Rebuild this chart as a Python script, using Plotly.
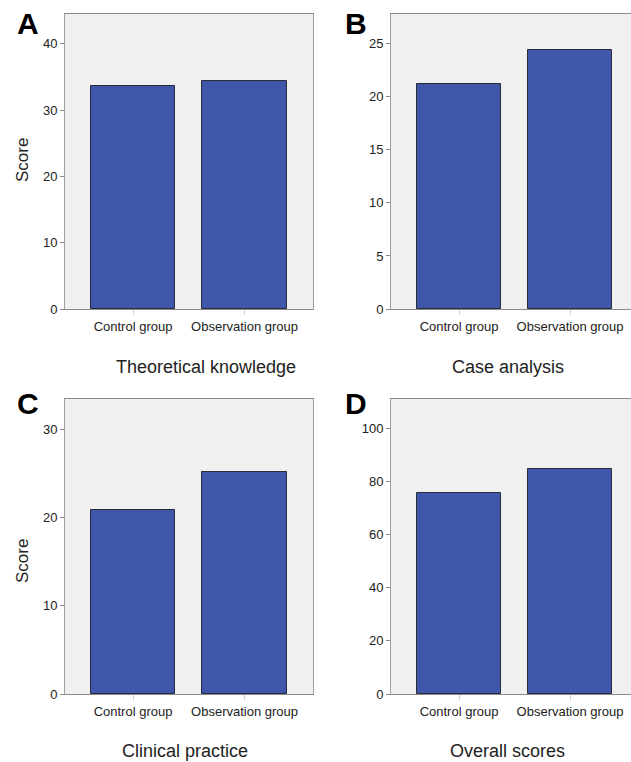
import plotly.graph_objects as go

categories = ["Control group", "Observation group"]
theoretical = [33.6, 34.4]
case_analysis = [21.2, 24.4]
clinical = [20.8, 25.1]
overall = [75.6, 84.6]

panels = [
    dict(vals=theoretical, letter="A", title="Theoretical knowledge", yrange=[0, 44.5], dtick=10),
    dict(vals=case_analysis, letter="B", title="Case analysis", yrange=[0, 27.8], dtick=5),
    dict(vals=clinical, letter="C", title="Clinical practice", yrange=[0, 33.4], dtick=10),
    dict(vals=overall, letter="D", title="Overall scores", yrange=[0, 111], dtick=20),
]

W, H = 631, 762
boxes = [(65, 14, 313, 309), (391, 14, 631, 309), (65, 399, 313, 694), (391, 399, 631, 694)]
xranges = [[-0.61, 1.614], [-0.613, 1.549], [-0.61, 1.614], [-0.613, 1.549]]
title_pos = [(206, 367), (508, 367), (185, 751), (507, 751)]
letter_pos = [(28, 24), (356, 24), (28, 403), (356, 403)]
score_pos = [(22, 160), (22, 561)]

FONT = "Liberation Sans, Arial, sans-serif"
fig = go.Figure()
layout = dict(width=W, height=H, margin=dict(l=0, r=0, t=0, b=0, autoexpand=False),
              paper_bgcolor="white", plot_bgcolor="white", showlegend=False,
              font=dict(family=FONT, color="#222"), annotations=[], bargap=0)

shapes = []
for i, p in enumerate(panels):
    n = "" if i == 0 else str(i + 1)
    l, t, r, b = boxes[i]
    fig.add_trace(go.Bar(x=categories, y=p["vals"], xaxis="x" + n, yaxis="y" + n,
                         width=0.755, marker=dict(color="#3f57ab", line=dict(color="#2a2a3a", width=1))))
    right_cut = (r == W)
    layout["xaxis" + n] = dict(domain=[l / W, r / W], anchor="y" + n, range=xranges[i],
                               showline=True, linecolor="#8a8a8a", linewidth=1,
                               mirror=True, ticks="outside", ticklen=5, tickcolor="#cfcfcf",
                               tickfont=dict(size=13, color="#222", family=FONT),
                               showgrid=False, zeroline=False, fixedrange=True, automargin=False)
    layout["yaxis" + n] = dict(domain=[1 - b / H, 1 - t / H], anchor="x" + n, range=p["yrange"],
                               dtick=p["dtick"], tick0=0,
                               showline=True, linecolor="#a0a0a0", linewidth=1,
                               mirror=(not right_cut), ticks="outside", ticklen=4, tickcolor="#8a8a8a",
                               tickfont=dict(size=13, color="#222", family=FONT),
                               showgrid=False, zeroline=False, fixedrange=True, automargin=False)
    tx, ty = title_pos[i]
    layout["annotations"].append(dict(text=p["title"], x=tx / W, y=1 - ty / H, xref="paper", yref="paper",
                                      showarrow=False, font=dict(size=18, family=FONT, color="#222"),
                                      xanchor="center", yanchor="middle"))
    lx, ly = letter_pos[i]
    layout["annotations"].append(dict(text="<b>" + p["letter"] + "</b>", x=lx / W, y=1 - ly / H,
                                      xref="paper", yref="paper", showarrow=False,
                                      font=dict(size=30, family=FONT, color="black"),
                                      xanchor="center", yanchor="middle"))
    shapes.append(dict(type="rect", xref="paper", yref="paper", x0=l / W, x1=r / W,
                       y0=1 - b / H, y1=1 - t / H, fillcolor="#f0f0f0", line=dict(width=0), layer="below"))

for sx, sy in score_pos:
    layout["annotations"].append(dict(text="Score", x=sx / W, y=1 - sy / H, xref="paper", yref="paper",
                                      showarrow=False, textangle=-90,
                                      font=dict(size=17, family=FONT, color="#222"),
                                      xanchor="center", yanchor="middle"))

layout["shapes"] = shapes
fig.update_layout(**layout)
fig.write_html("out.html", config={"displayModeBar": False},
               post_script="document.body.style.margin='0';document.body.style.overflow='hidden';")
